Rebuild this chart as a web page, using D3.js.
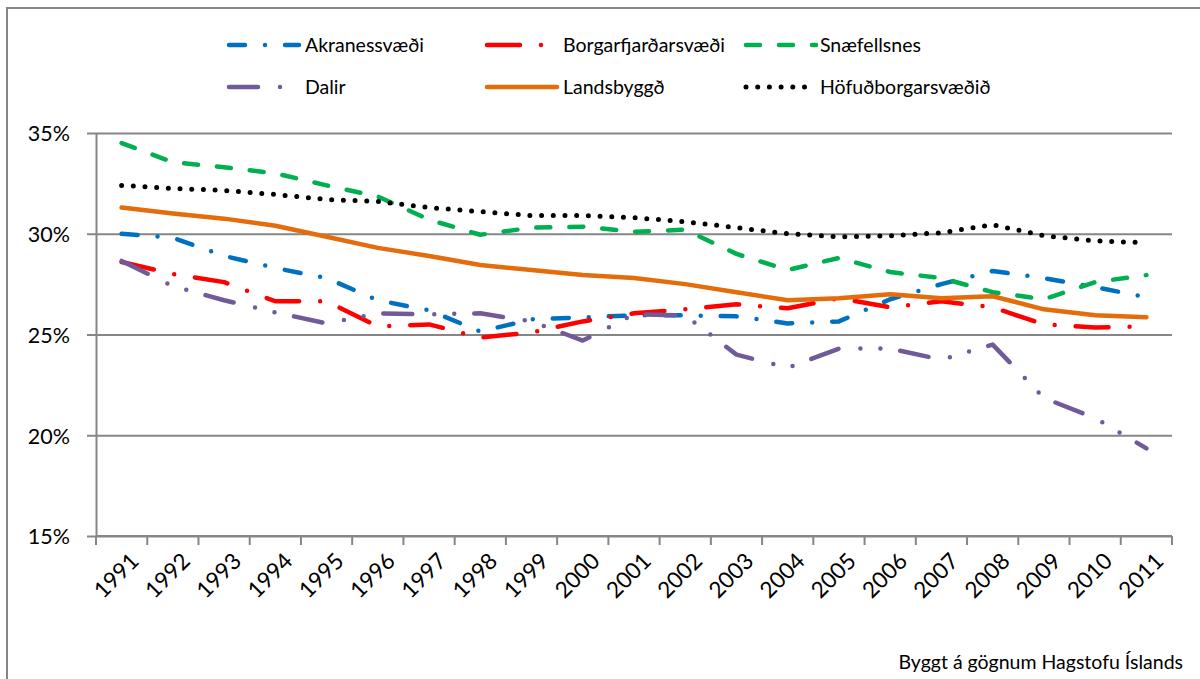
<!DOCTYPE html>
<html lang="is">
  <head>
    <meta charset="utf-8" />
    <title>Hlutfall</title>
    <script src="https://cdn.jsdelivr.net/npm/d3@7"></script>
    <style>
      body { margin: 0; background: #fff; }
      text { font-family: Lato, "Open Sans", sans-serif; fill: #000; }
    </style>
  </head>
  <body>
    <script>
      // data (percent)
      var years = ["1991", "1992", "1993", "1994", "1995", "1996", "1997", "1998", "1999", "2000",
        "2001", "2002", "2003", "2004", "2005", "2006", "2007", "2008", "2009", "2010", "2011"];
      var akranes = [30.0, 29.8, 28.9, 28.3, 27.8, 26.7, 26.2, 25.15, 25.75, 25.85, 25.95,
        25.95, 25.9, 25.55, 25.65, 26.75, 27.5, 28.15, 27.8, 27.35, 26.85];
      var borgar = [28.6, 28.0, 27.6, 26.65, 26.65, 25.4, 25.5, 24.85, 25.1, 25.65, 26.05,
        26.25, 26.5, 26.3, 26.8, 26.35, 26.65, 26.35, 25.5, 25.35, 25.4];
      var snaef = [34.5, 33.55, 33.3, 33.0, 32.4, 31.85, 30.7, 29.95, 30.3, 30.35, 30.1,
        30.2, 29.0, 28.2, 28.8, 28.1, 27.8, 27.1, 26.75, 27.6, 27.95];
      var dalir = [28.65, 27.4, 26.7, 26.1, 25.55, 26.05, 26.0, 26.05, 25.65, 24.7, 26.0,
        25.95, 24.0, 23.35, 24.3, 24.3, 23.75, 24.5, 21.85, 20.85, 19.35];
      var lands = [31.3, 31.0, 30.75, 30.4, 29.85, 29.3, 28.9, 28.45, 28.2, 27.95, 27.8,
        27.5, 27.1, 26.7, 26.8, 27.0, 26.8, 26.9, 26.25, 25.95, 25.85];
      var hofud = [32.4, 32.25, 32.15, 31.95, 31.7, 31.6, 31.3, 31.1, 30.9, 30.9, 30.8,
        30.6, 30.3, 30.0, 29.85, 29.9, 30.05, 30.45, 29.9, 29.65, 29.55];
      var names = ["Akranessvæði", "Borgarfjarðarsvæði", "Snæfellsnes", "Dalir", "Landsbyggð", "Höfuðborgarsvæðið"];
      var yTicks = [15, 20, 25, 30, 35];

      var series = [akranes, borgar, snaef, dalir, lands, hofud];
      var styles = [
        { color: "#0070c0", dash: "16 20 0 20", width: 4.5 },
        { color: "#ff0000", dash: "33 21 0 21", width: 4.5 },
        { color: "#00b050", dash: "14 19", width: 4.5 },
        { color: "#705a9a", dash: "29 22 0 20 0 20", width: 4.5 },
        { color: "#e46c0a", dash: null, width: 4.5 },
        { color: "#000000", dash: "0 11.7", width: 5 }
      ];

      var w = 1200, h = 679;
      var plotL = 96, plotR = 1172, plotT = 133, plotB = 536;

      var svg = d3.select("body").append("svg").attr("width", w).attr("height", h);

      // outer frame (right and bottom edges fall outside the picture)
      svg.append("rect")
        .attr("x", 7).attr("y", 8)
        .attr("width", w + 20).attr("height", h + 20)
        .attr("fill", "none").attr("stroke", "#868686").attr("stroke-width", 2);

      var x = d3.scaleBand().domain(years).range([plotL, plotR]).padding(0);
      var y = d3.scaleLinear().domain([15, 35]).range([plotB, plotT]);

      // gridlines
      svg.append("g")
        .attr("transform", "translate(" + plotR + ",0)")
        .call(d3.axisLeft(y).tickValues(yTicks).tickSize(plotR - plotL + 9).tickFormat(""))
        .call(function (g) {
          g.select(".domain").remove();
          g.selectAll("line").attr("stroke", "#868686").attr("stroke-width", 2);
        });

      // y axis
      svg.append("g")
        .attr("transform", "translate(" + plotL + ",0)")
        .call(d3.axisLeft(y).tickValues(yTicks).tickSize(0).tickPadding(26)
          .tickFormat(function (d) { return d + "%"; }))
        .call(function (g) {
          g.select(".domain").attr("stroke", "#868686").attr("stroke-width", 2);
          g.selectAll("text").attr("font-size", "21.5px").attr("dy", "0.36em")
            .attr("fill", "#000")
            .style("font-family", "Lato, sans-serif");
        });

      // x axis: ticks at category boundaries
      var bounds = years.map(function (d) { return x(d); }).concat([plotR]);
      svg.append("g").selectAll("line")
        .data(bounds).enter().append("line")
        .attr("x1", function (d) { return d; }).attr("x2", function (d) { return d; })
        .attr("y1", plotB).attr("y2", plotB + 9)
        .attr("stroke", "#868686").attr("stroke-width", 2);
      svg.append("line")
        .attr("x1", plotL).attr("x2", plotR).attr("y1", plotB).attr("y2", plotB)
        .attr("stroke", "#868686").attr("stroke-width", 2);

      svg.append("g").selectAll("text")
        .data(years).enter().append("text")
        .attr("transform", function (d) {
          return "translate(" + (x(d) + x.bandwidth() / 2 + 13) + "," + (plotB + 21) + ") rotate(-45)";
        })
        .attr("text-anchor", "end")
        .attr("dy", "0.35em")
        .attr("font-size", "22.5px")
        .text(function (d) { return d; });

      // lines
      var line = d3.line()
        .x(function (d, i) { return x(years[i]) + x.bandwidth() / 2; })
        .y(function (d) { return y(d); });

      svg.append("g").selectAll("path")
        .data(series).enter().append("path")
        .attr("d", line)
        .attr("fill", "none")
        .attr("stroke", function (d, i) { return styles[i].color; })
        .attr("stroke-width", function (d, i) { return styles[i].width; })
        .attr("stroke-dasharray", function (d, i) { return styles[i].dash; })
        .attr("stroke-linecap", "round")
        .attr("stroke-linejoin", "round");

      // legend
      var legX = [227, 485, 744];
      var legY = [45, 87];
      var legend = svg.append("g").selectAll("g")
        .data(names).enter().append("g")
        .attr("transform", function (d, i) {
          return "translate(" + legX[i % 3] + "," + legY[Math.floor(i / 3)] + ")";
        });
      legend.append("line")
        .attr("x1", 2).attr("x2", 72).attr("y1", 0).attr("y2", 0)
        .attr("stroke", function (d, i) { return styles[i].color; })
        .attr("stroke-width", function (d, i) { return styles[i].width; })
        .attr("stroke-dasharray", function (d, i) { return styles[i].dash; })
        .attr("stroke-linecap", "round");
      legend.append("text")
        .attr("x", function (d, i) { return i % 3 === 2 ? 76 : 78; })
        .attr("dy", "0.35em")
        .attr("font-size", "19.5px")
        .text(function (d) { return d; });

      // source note
      svg.append("text")
        .attr("x", 1183).attr("y", 669)
        .attr("text-anchor", "end")
        .attr("font-size", "19.5px")
        .text("Byggt á gögnum Hagstofu Íslands");
    </script>
  </body>
</html>
